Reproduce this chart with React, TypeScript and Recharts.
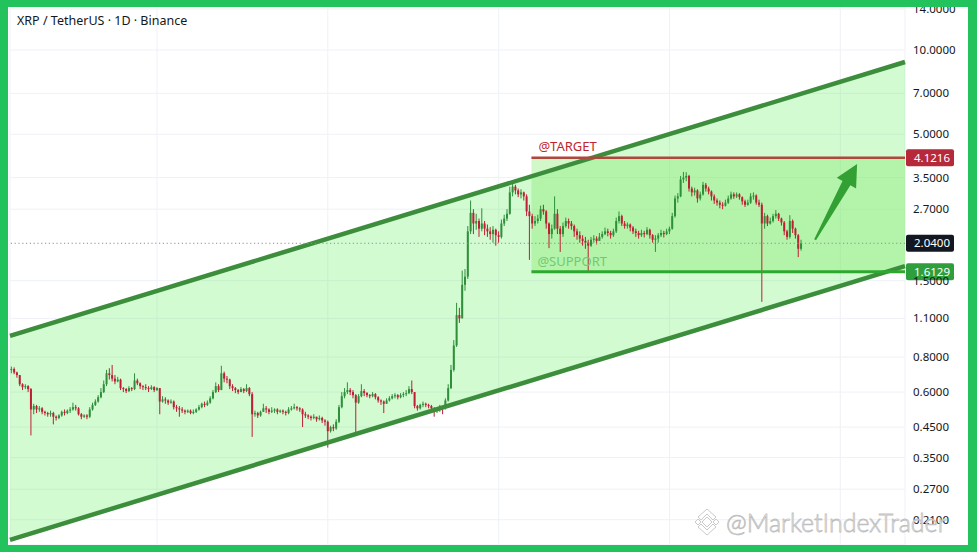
import React from "react";
import {
  ComposedChart,
  Bar,
  Area,
  XAxis,
  YAxis,
  CartesianGrid,
  ReferenceLine,
  ReferenceArea,
} from "recharts";

// XRP / USDT, 3-day candles; each candle opens at the previous close
const firstOpen = 0.72;
const closes = [
  0.725, 0.705, 0.69, 0.64, 0.625, 0.63, 0.615, 0.52, 0.535, 0.52,
  0.525, 0.51, 0.505, 0.5, 0.505, 0.49, 0.485, 0.495, 0.51, 0.505,
  0.515, 0.52, 0.53, 0.525, 0.5, 0.49, 0.495, 0.49, 0.52, 0.54,
  0.555, 0.575, 0.6, 0.64, 0.7, 0.69, 0.67, 0.655, 0.665, 0.62,
  0.615, 0.605, 0.62, 0.615, 0.66, 0.645, 0.63, 0.625, 0.62, 0.615,
  0.625, 0.61, 0.62, 0.555, 0.565, 0.56, 0.55, 0.555, 0.53, 0.525,
  0.52, 0.515, 0.51, 0.515, 0.505, 0.51, 0.52, 0.53, 0.545, 0.54,
  0.55, 0.57, 0.6, 0.63, 0.61, 0.7, 0.67, 0.665, 0.63, 0.62,
  0.61, 0.6, 0.615, 0.605, 0.62, 0.59, 0.5, 0.505, 0.495, 0.51,
  0.525, 0.52, 0.51, 0.515, 0.52, 0.51, 0.515, 0.51, 0.505, 0.52,
  0.525, 0.53, 0.525, 0.52, 0.5, 0.495, 0.49, 0.485, 0.49, 0.48,
  0.485, 0.475, 0.47, 0.435, 0.45, 0.445, 0.47, 0.53, 0.58, 0.6,
  0.61, 0.6, 0.585, 0.55, 0.58, 0.605, 0.595, 0.585, 0.58, 0.59,
  0.575, 0.56, 0.555, 0.545, 0.56, 0.57, 0.58, 0.585, 0.575, 0.585,
  0.59, 0.595, 0.615, 0.6, 0.535, 0.525, 0.54, 0.545, 0.54, 0.535,
  0.525, 0.515, 0.52, 0.53, 0.525, 0.56, 0.62, 0.72, 0.88, 1.13,
  1.1, 1.45, 1.55, 2.25, 2.62, 2.4, 2.45, 2.3, 2.4, 2.3,
  2.25, 2.2, 2.28, 2.18, 2.15, 2.4, 2.5, 2.6, 3.1, 3.25,
  3.15, 3.05, 3.1, 3.0, 2.65, 2.55, 2.4, 2.45, 2.5, 2.7,
  2.65, 2.4, 2.2, 2.3, 2.6, 2.3, 2.2, 2.35, 2.45, 2.4,
  2.35, 2.25, 2.18, 2.12, 2.08, 2.05, 2.0, 2.1, 2.12, 2.08,
  2.15, 2.2, 2.25, 2.22, 2.18, 2.25, 2.45, 2.55, 2.4, 2.35,
  2.38, 2.32, 2.25, 2.22, 2.18, 2.22, 2.2, 2.28, 2.18, 2.1,
  2.12, 2.18, 2.22, 2.2, 2.25, 2.3, 2.55, 2.95, 3.0, 3.45,
  3.5, 3.55, 3.2, 3.1, 3.15, 2.95, 3.05, 3.3, 3.2, 3.12,
  3.0, 2.9, 2.85, 2.8, 2.78, 2.85, 2.95, 3.05, 3.0, 3.05,
  2.98, 2.88, 2.8, 2.85, 3.0, 3.02, 2.85, 2.8, 2.4, 2.55,
  2.4, 2.45, 2.55, 2.6, 2.5, 2.42, 2.25, 2.15, 2.45, 2.3, 2.18, 1.95, 2.04,
];
const highs = [
  0.74, 0.735, 0.71, 0.69, 0.645, 0.64, 0.635, 0.62, 0.545, 0.54,
  0.535, 0.53, 0.515, 0.51, 0.515, 0.51, 0.495, 0.5, 0.515, 0.52,
  0.52, 0.53, 0.55, 0.54, 0.53, 0.505, 0.5, 0.5, 0.53, 0.55,
  0.565, 0.585, 0.62, 0.66, 0.72, 0.73, 0.75, 0.69, 0.68, 0.67,
  0.625, 0.62, 0.63, 0.625, 0.7, 0.67, 0.65, 0.635, 0.64, 0.63,
  0.635, 0.63, 0.625, 0.62, 0.58, 0.575, 0.565, 0.565, 0.56, 0.54,
  0.535, 0.53, 0.52, 0.52, 0.52, 0.52, 0.525, 0.54, 0.55, 0.555,
  0.56, 0.58, 0.61, 0.65, 0.64, 0.745, 0.71, 0.685, 0.67, 0.64,
  0.625, 0.615, 0.625, 0.62, 0.64, 0.625, 0.6, 0.515, 0.51, 0.515,
  0.545, 0.535, 0.525, 0.53, 0.525, 0.525, 0.52, 0.52, 0.515, 0.53,
  0.535, 0.545, 0.535, 0.53, 0.525, 0.51, 0.5, 0.495, 0.5, 0.49,
  0.495, 0.49, 0.48, 0.475, 0.455, 0.46, 0.48, 0.54, 0.6, 0.62,
  0.65, 0.62, 0.61, 0.59, 0.59, 0.64, 0.615, 0.6, 0.59, 0.6,
  0.595, 0.58, 0.565, 0.56, 0.57, 0.58, 0.59, 0.595, 0.59, 0.595,
  0.6, 0.61, 0.63, 0.66, 0.6, 0.54, 0.545, 0.555, 0.55, 0.545,
  0.54, 0.53, 0.525, 0.54, 0.535, 0.57, 0.64, 0.75, 0.92, 1.25,
  1.2, 1.63, 1.65, 2.35, 2.9, 2.7, 2.6, 2.5, 2.72, 2.45,
  2.38, 2.33, 2.35, 2.3, 2.25, 2.48, 2.58, 2.7, 3.25, 3.38,
  3.3, 3.2, 3.18, 3.12, 3.05, 2.8, 2.6, 2.55, 2.58, 2.78,
  2.8, 2.68, 2.42, 2.38, 3.0, 2.7, 2.35, 2.42, 2.52, 2.5,
  2.45, 2.38, 2.3, 2.25, 2.18, 2.15, 2.1, 2.15, 2.18, 2.16,
  2.22, 2.25, 2.32, 2.3, 2.26, 2.3, 2.52, 2.65, 2.58, 2.45,
  2.42, 2.4, 2.35, 2.3, 2.26, 2.28, 2.26, 2.33, 2.3, 2.2,
  2.18, 2.22, 2.28, 2.26, 2.3, 2.34, 2.62, 3.02, 3.08, 3.55,
  3.67, 3.66, 3.58, 3.25, 3.22, 3.18, 3.12, 3.38, 3.35, 3.25,
  3.15, 3.05, 2.95, 2.9, 2.86, 2.92, 3.02, 3.12, 3.1, 3.1,
  3.08, 3.0, 2.92, 2.92, 3.08, 3.1, 3.05, 2.92, 2.85, 2.62,
  2.58, 2.52, 2.6, 2.68, 2.62, 2.52, 2.45, 2.28, 2.57, 2.48, 2.32, 2.2, 2.1,
];
const lows = [
  0.7, 0.695, 0.675, 0.63, 0.61, 0.615, 0.6, 0.42, 0.5, 0.505,
  0.51, 0.5, 0.495, 0.49, 0.49, 0.46, 0.475, 0.48, 0.49, 0.495,
  0.5, 0.505, 0.515, 0.515, 0.495, 0.48, 0.485, 0.48, 0.485, 0.515,
  0.535, 0.55, 0.57, 0.595, 0.63, 0.665, 0.655, 0.64, 0.65, 0.61,
  0.6, 0.595, 0.6, 0.605, 0.61, 0.635, 0.615, 0.61, 0.61, 0.6,
  0.61, 0.6, 0.605, 0.5, 0.55, 0.545, 0.54, 0.545, 0.52, 0.51,
  0.49, 0.505, 0.5, 0.505, 0.5, 0.5, 0.505, 0.515, 0.525, 0.53,
  0.535, 0.545, 0.565, 0.595, 0.6, 0.61, 0.65, 0.645, 0.615, 0.605,
  0.595, 0.59, 0.6, 0.595, 0.6, 0.58, 0.415, 0.49, 0.485, 0.49,
  0.51, 0.505, 0.5, 0.505, 0.505, 0.5, 0.505, 0.5, 0.495, 0.5,
  0.515, 0.52, 0.515, 0.51, 0.45, 0.485, 0.48, 0.475, 0.48, 0.47,
  0.475, 0.465, 0.455, 0.38, 0.43, 0.435, 0.44, 0.465, 0.525, 0.57,
  0.59, 0.585, 0.57, 0.43, 0.545, 0.575, 0.58, 0.575, 0.57, 0.575,
  0.565, 0.55, 0.54, 0.505, 0.545, 0.555, 0.565, 0.57, 0.565, 0.57,
  0.575, 0.58, 0.59, 0.59, 0.525, 0.515, 0.52, 0.53, 0.53, 0.525,
  0.515, 0.49, 0.505, 0.51, 0.5, 0.52, 0.555, 0.615, 0.71, 0.87,
  1.06, 1.1, 1.38, 1.52, 2.2, 2.2, 2.28, 2.15, 2.25, 2.18,
  2.15, 2.1, 2.05, 2.0, 2.05, 2.12, 2.35, 2.45, 2.58, 3.0,
  3.05, 2.98, 2.95, 2.9, 2.55, 1.78, 2.3, 2.35, 2.4, 2.45,
  2.58, 2.3, 1.96, 2.12, 2.28, 2.2, 1.9, 2.15, 2.32, 2.3,
  2.28, 2.15, 2.1, 2.05, 2.0, 1.95, 1.61, 1.98, 2.05, 2.02,
  2.08, 2.12, 2.18, 2.16, 2.12, 2.15, 2.22, 2.4, 2.35, 2.3,
  2.3, 2.25, 2.2, 2.15, 2.12, 2.15, 2.14, 2.18, 2.12, 2.05,
  1.9, 2.05, 2.15, 2.14, 2.18, 2.2, 2.28, 2.52, 2.85, 2.98,
  3.35, 3.4, 3.12, 3.0, 3.02, 2.85, 2.9, 3.02, 3.12, 3.05,
  2.9, 2.82, 2.78, 2.72, 2.7, 2.76, 2.82, 2.92, 2.94, 2.96,
  2.92, 2.8, 2.75, 2.78, 2.82, 2.92, 2.8, 2.75, 1.26, 2.3,
  2.35, 2.38, 2.42, 2.5, 2.45, 2.36, 2.18, 2.1, 2.12, 2.22, 2.12, 1.82, 1.92,
];

const priceTicks = [14, 10, 7, 5, 3.5, 2.7, 1.5, 1.1, 0.8, 0.6, 0.45, 0.35, 0.27, 0.21];
const gridTimes = [52, 113, 174, 235, 296];

// rising channel, lower and upper bound at each end
const channelStart = { t: -0.5, lower: 0.178, upper: 0.952 };
const channelEnd = { t: 319.1, lower: 1.69, upper: 9.06 };

const zoneStart = 185.7;
const targetPrice = 4.1216;
const supportPrice = 1.6129;
const lastPrice = 2.04;
const arrowFrom = { t: 287, price: 2.1 };
const arrowTo = { t: 302, price: 3.92 };

const UP = "#2f8f3a";
const DOWN = "#bd1f35";
const FONT = "'Noto Sans', 'Liberation Sans', sans-serif";

const candles = closes.map((close, i) => ({
  t: i,
  open: i === 0 ? firstOpen : closes[i - 1],
  close,
  high: highs[i],
  low: lows[i],
}));

const channelData = [
  { t: channelStart.t, band: [channelStart.lower, channelStart.upper] },
  { t: channelEnd.t, band: [channelEnd.lower, channelEnd.upper] },
];

const Candle = (props: any) => {
  const { x, y, width, height, payload } = props;
  if (!payload || y == null || height == null) return null;
  const { open, close, high, low } = payload;
  const lh = Math.log(high);
  const ll = Math.log(low);
  const toY = (v: number) => (lh === ll ? y : y + (height * (lh - Math.log(v))) / (lh - ll));
  const color = close >= open ? UP : DOWN;
  const cx = x + width / 2;
  const yo = toY(open);
  const yc = toY(close);
  const top = Math.min(yo, yc);
  const h = Math.max(1, Math.abs(yo - yc));
  return (
    <g>
      <line x1={cx} x2={cx} y1={y} y2={y + height} stroke={color} strokeWidth={1} />
      <rect x={cx - 1} y={top} width={2} height={h} fill={color} />
    </g>
  );
};

const priceTag = (text: string, bg: string) => (props: any) => {
  const vb = props.viewBox;
  if (!vb) return null;
  const x = vb.x + vb.width + 1;
  const y = vb.y;
  return (
    <g>
      <rect x={x} y={y - 8.5} width={48} height={17} rx={2} fill={bg} />
      <text x={x + 8} y={y} dy="0.36em" fill="#ffffff" fontSize={11.5} fontFamily={FONT}>
        {text}
      </text>
    </g>
  );
};

const Arrow = (props: any) => {
  const { x1, y1, x2, y2 } = props;
  if ([x1, y1, x2, y2].some((v) => v == null || isNaN(v))) return null;
  const dx = x2 - x1;
  const dy = y2 - y1;
  const len = Math.hypot(dx, dy);
  const ux = dx / len;
  const uy = dy / len;
  const nx = -uy;
  const ny = ux;
  const headLen = 22;
  const headHalf = 11;
  const bx = x2 - ux * headLen;
  const by = y2 - uy * headLen;
  const p = (x: number, y: number) => `${x.toFixed(1)},${y.toFixed(1)}`;
  const pts = [
    p(x1 + nx * 1, y1 + ny * 1),
    p(bx + nx * 4.5, by + ny * 4.5),
    p(bx + nx * headHalf, by + ny * headHalf),
    p(x2, y2),
    p(bx - nx * headHalf, by - ny * headHalf),
    p(bx - nx * 4.5, by - ny * 4.5),
    p(x1 - nx * 1, y1 - ny * 1),
  ].join(" ");
  return <polygon points={pts} fill="#33a033" />;
};

const Watermark = () => (
  <svg
    width={977}
    height={552}
    style={{ position: "absolute", left: 0, top: 0, pointerEvents: "none" }}
  >
    <g fill="#ffffff" stroke="#c4c4c4" strokeWidth={0.9}>
      <polygon points="707,509 716,517 713,520 707,514 701,520 698,517" />
      <polygon points="707,517 712,522 707,527 702,522" />
      <polygon points="695,522 698,519 701,522 698,525" />
      <polygon points="713,522 716,519 719,522 716,525" />
      <polygon points="707,535 716,527 713,524 707,530 701,524 698,527" />
    </g>
    <text
      x={726}
      y={532}
      fontSize={25}
      fontFamily="Lato, 'Noto Sans', sans-serif"
      fontWeight={300}
      fill="#ffffff"
      stroke="#bfbfbf"
      strokeWidth={0.8}
    >
      @MarketIndexTrader
    </text>
  </svg>
);

export default function App() {
  return (
    <div
      style={{
        position: "fixed",
        left: 0,
        top: 0,
        width: 977,
        height: 552,
        background: "#ffffff",
        fontFamily: FONT,
        overflow: "hidden",
      }}
    >
      <div style={{ position: "absolute", left: 8, top: 7 }}>
        <ComposedChart
          width={960}
          height={538}
          data={candles}
          margin={{ top: 0, right: 0, bottom: 0, left: 2 }}
        >
          <CartesianGrid stroke="#eef1f6" strokeWidth={1} />
          <XAxis
            dataKey="t"
            type="number"
            domain={[-0.5, 319.1]}
            allowDataOverflow
            ticks={gridTimes}
            hide
          />
          <YAxis
            orientation="right"
            scale="log"
            domain={[0.1706, 14.24]}
            allowDataOverflow
            ticks={priceTicks}
            interval={0}
            width={63}
            axisLine={false}
            tickLine={false}
            tick={{ fill: "#131722", fontSize: 11.5, fontFamily: FONT }}
            tickFormatter={(v: number) => v.toFixed(4)}
          />
          <Area
            data={channelData}
            dataKey="band"
            type="linear"
            stroke="none"
            fill="#4cf04c"
            fillOpacity={0.25}
            isAnimationActive={false}
          />
          <ReferenceArea
            x1={zoneStart}
            x2={channelEnd.t}
            y1={supportPrice}
            y2={targetPrice}
            fill="#7de860"
            fillOpacity={0.35}
            stroke="none"
          />
          <ReferenceLine
            segment={[
              { x: channelStart.t, y: channelStart.upper },
              { x: channelEnd.t, y: channelEnd.upper },
            ]}
            stroke="#3c8d3c"
            strokeWidth={4.5}
          />
          <ReferenceLine
            segment={[
              { x: channelStart.t, y: channelStart.lower },
              { x: channelEnd.t, y: channelEnd.lower },
            ]}
            stroke="#3c8d3c"
            strokeWidth={4.5}
          />
          <ReferenceLine
            segment={[
              { x: zoneStart, y: targetPrice },
              { x: channelEnd.t, y: targetPrice },
            ]}
            stroke="#b0473c"
            strokeWidth={2.5}
            label={{
              value: "@TARGET",
              position: "insideBottomLeft",
              offset: 7,
              fill: "#c0272d",
              fontSize: 13,
              fontFamily: FONT,
            }}
          />
          <ReferenceLine
            segment={[
              { x: zoneStart, y: supportPrice },
              { x: channelEnd.t, y: supportPrice },
            ]}
            stroke="#2ea82e"
            strokeWidth={3}
            label={{
              value: "@SUPPORT",
              position: "insideBottomLeft",
              offset: 6,
              fill: "#72c972",
              fontSize: 13,
              fontFamily: FONT,
            }}
          />
          <ReferenceLine
            y={lastPrice}
            stroke="#8a8f98"
            strokeWidth={1}
            strokeDasharray="1.2 2.6"
            label={{ content: priceTag(lastPrice.toFixed(4), "#131722") }}
          />
          <Bar
            dataKey={(d: any) => [d.low, d.high]}
            barSize={2}
            shape={Candle}
            isAnimationActive={false}
          />
          <ReferenceLine
            segment={[
              { x: arrowFrom.t, y: arrowFrom.price },
              { x: arrowTo.t, y: arrowTo.price },
            ]}
            shape={Arrow}
          />
          <ReferenceLine
            y={targetPrice}
            stroke="none"
            label={{ content: priceTag(targetPrice.toFixed(4), "#b5293a") }}
          />
          <ReferenceLine
            y={supportPrice}
            stroke="none"
            label={{ content: priceTag(supportPrice.toFixed(4), "#2f9e3c") }}
          />
        </ComposedChart>
      </div>
      <div
        style={{
          position: "absolute",
          left: 17,
          top: 12,
          fontSize: 12.5,
          color: "#131722",
          fontFamily: FONT,
          whiteSpace: "nowrap",
        }}
      >
        XRP / TetherUS · 1D · Binance
      </div>
      <Watermark />
      <div
        style={{
          position: "absolute",
          left: 0,
          top: 0,
          width: 977,
          height: 552,
          boxSizing: "border-box",
          borderStyle: "solid",
          borderColor: "#22c35d",
          borderWidth: "7px 9px 7px 8px",
          pointerEvents: "none",
        }}
      />
    </div>
  );
}
